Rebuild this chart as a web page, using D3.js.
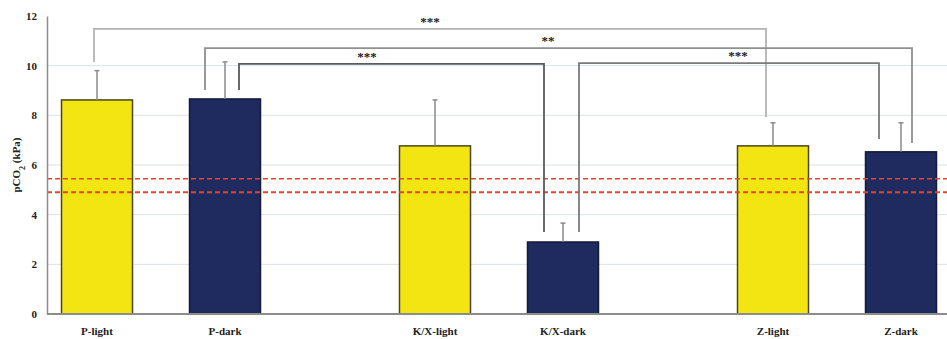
<!DOCTYPE html>
<html>
<head>
<meta charset="utf-8">
<script src="https://cdn.jsdelivr.net/npm/d3@7"></script>
<style>
  html, body { margin: 0; padding: 0; background: #fff; }
  svg { display: block; }
  text { font-family: "Liberation Serif", "Times New Roman", serif; font-weight: bold; fill: #222; }
</style>
</head>
<body>
<svg id="chart" width="947" height="339"></svg>
<script>
// pCO2 by group and light condition
const groups = ["P", "K/X", "Z"];
const conditions = ["light", "dark"];
const categories = ["P-light", "P-dark", "K/X-light", "K/X-dark", "Z-light", "Z-dark"];
const means = [8.62, 8.66, 6.77, 2.90, 6.77, 6.53];
const errTops = [9.80, 10.15, 8.62, 3.66, 7.70, 7.70];
const yTicks = [0, 2, 4, 6, 8, 10, 12];
const refLines = [5.45, 4.90];

// significance brackets: from/to category, bar level, leg ends (pCO2 units)
const bracketFrom = ["P-light", "P-dark", "P-dark", "K/X-dark"];
const bracketTo = ["Z-light", "Z-dark", "K/X-dark", "Z-dark"];
const bracketLevel = [11.48, 10.71, 10.07, 10.10];
const bracketLegFrom = [10.15, 9.02, 9.02, 3.30];
const bracketLegTo = [7.93, 6.89, 3.30, 7.05];
const bracketLabel = ["***", "**", "***", "***"];

const svg = d3.select("#chart");
const axisX = 47, plotRight = 947;
const y = d3.scaleLinear().domain([0, 12]).range([314, 16]);
const xGroup = d3.scalePoint().domain(groups).range([161, 837]);
const xSub = d3.scalePoint().domain(conditions).range([-64, 64]);
const barW = 71;
const cx = c => {
  const i = c.lastIndexOf("-");
  return xGroup(c.slice(0, i)) + xSub(c.slice(i + 1));
};
const fillOf = c => c.endsWith("light") ? "#f3e512" : "#1f2a5e";
const strokeOf = c => c.endsWith("light") ? "#4a4622" : "#141a3c";

// horizontal gridlines
svg.append("g").selectAll("line")
  .data(yTicks.filter(t => t > 0 && t < 12))
  .join("line")
  .attr("x1", axisX).attr("x2", plotRight)
  .attr("y1", d => y(d)).attr("y2", d => y(d))
  .attr("stroke", "#dbe1e8").attr("stroke-width", 1);

// bars
svg.append("g").selectAll("rect")
  .data(categories)
  .join("rect")
  .attr("x", c => cx(c) - barW / 2)
  .attr("width", barW)
  .attr("y", (c, i) => y(means[i]))
  .attr("height", (c, i) => y(0) - y(means[i]))
  .attr("fill", fillOf)
  .attr("stroke", strokeOf)
  .attr("stroke-width", 1.5);

// error bars
const eb = svg.append("g").attr("stroke", "#8a8a8a").attr("stroke-width", 1.5);
eb.selectAll("line.v").data(categories).join("line").attr("class", "v")
  .attr("x1", cx).attr("x2", cx)
  .attr("y1", (c, i) => y(means[i])).attr("y2", (c, i) => y(errTops[i]));
eb.selectAll("line.cap").data(categories).join("line").attr("class", "cap")
  .attr("x1", c => cx(c) - 2.5).attr("x2", c => cx(c) + 2.5)
  .attr("y1", (c, i) => y(errTops[i])).attr("y2", (c, i) => y(errTops[i]));

// reference range (dashed)
svg.append("g").selectAll("line")
  .data(refLines)
  .join("line")
  .attr("x1", axisX).attr("x2", plotRight)
  .attr("y1", d => y(d)).attr("y2", d => y(d))
  .attr("stroke", "#e0462c")
  .attr("stroke-width", (d, i) => i === 0 ? 1.5 : 2)
  .attr("stroke-dasharray", "5,3");

// axes
const yAxis = d3.axisLeft(y).tickValues(yTicks).tickSize(0).tickPadding(10).tickFormat(d3.format("d"));
const gy = svg.append("g").attr("transform", `translate(${axisX},0)`).call(yAxis);
gy.select(".domain").attr("stroke", "#8c8c8c").attr("stroke-width", 1.5);
gy.selectAll("text").style("font-size", "11px").style("font-family", "Liberation Serif, serif").style("font-weight", "bold").attr("fill", "#333");

svg.append("line")
  .attr("x1", axisX).attr("x2", plotRight)
  .attr("y1", y(0)).attr("y2", y(0))
  .attr("stroke", "#8c8c8c").attr("stroke-width", 2);

// category labels
svg.append("g").selectAll("text")
  .data(categories)
  .join("text")
  .attr("x", cx).attr("y", 335)
  .attr("text-anchor", "middle")
  .style("font-size", "11px")
  .text(c => c);

// y-axis title with subscript
const yt = svg.append("text")
  .attr("transform", `translate(20,${(y(0) + y(12)) / 2}) rotate(-90)`)
  .attr("text-anchor", "middle")
  .style("font-size", "11px");
yt.append("tspan").text("pCO");
yt.append("tspan").attr("baseline-shift", "sub").style("font-size", "8px").text("2");
yt.append("tspan").text(" (kPa)");

// significance brackets
const legShift = [[-3, -7], [-20, 11], [14, -19], [16, -22]];
const bColors = ["#b3b3b3", "#8f8f8f", "#5a5a5a", "#7a7a7a"];
const bg = svg.append("g");
bracketFrom.forEach((f, i) => {
  const x1 = cx(f) + legShift[i][0];
  const x2 = cx(bracketTo[i]) + legShift[i][1];
  const yl = y(bracketLevel[i]);
  bg.append("path")
    .attr("d", `M${x1},${y(bracketLegFrom[i])}V${yl}H${x2}V${y(bracketLegTo[i])}`)
    .attr("fill", "none")
    .attr("stroke", bColors[i])
    .attr("stroke-width", 1.8);
});
const labelX = [430, 548, 367, 738];
bg.selectAll("text").data(bracketLabel).join("text")
  .attr("x", (d, i) => labelX[i])
  .attr("y", (d, i) => y(bracketLevel[i]) - 3)
  .attr("text-anchor", "middle")
  .style("font-size", "13px")
  .attr("fill", "#333")
  .text(d => d);
</script>
</body>
</html>
